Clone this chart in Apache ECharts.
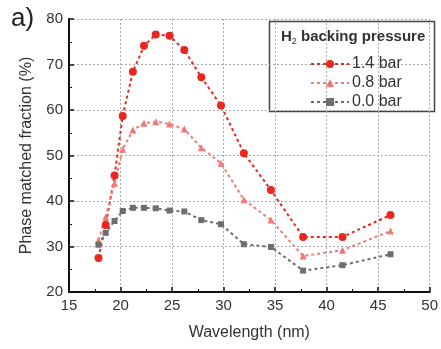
<!DOCTYPE html>
<html><head><meta charset="utf-8">
<script src="https://cdn.jsdelivr.net/npm/echarts@6/dist/echarts.min.js"></script>
<style>html,body{margin:0;padding:0;background:#fff}#c{width:441px;height:349px}</style>
</head><body><div id="c"></div>
<script>
var xTicks = [15, 20, 25, 30, 35, 40, 45, 50];
var yTicks = [20, 30, 40, 50, 60, 70, 80];
var wavelength = [17.86, 18.56, 19.42, 20.21, 21.2, 22.28, 23.42, 24.76, 26.19, 27.84, 29.75, 31.97, 34.6, 37.72, 41.54, 46.2];
var bar14 = [27.5, 34.7, 45.6, 58.7, 68.4, 74.1, 76.6, 76.3, 73.2, 67.2, 61.0, 50.5, 42.4, 32.1, 32.1, 36.9];
var bar08 = [31.4, 36.5, 43.9, 51.4, 55.6, 57.1, 57.4, 56.9, 55.8, 51.7, 48.3, 40.3, 35.8, 27.9, 29.2, 33.4];
var bar00 = [30.4, 33.0, 35.6, 37.8, 38.5, 38.5, 38.4, 37.9, 37.7, 35.8, 34.9, 30.5, 29.9, 24.7, 25.9, 28.3];
var seriesNames = ['1.4 bar', '0.8 bar', '0.0 bar'];

function pairs(ys){ return wavelength.map(function(x,i){ return [x, ys[i]]; }); }
var font = 'Liberation Sans, Arial, sans-serif';
var chart = echarts.init(document.getElementById('c'), null, {renderer:'canvas'});
function mk(name, data, color, symbol, size){
  return {name:name, type:'line', data:pairs(data), symbol:symbol, symbolSize:size,
    lineStyle:{color:color, width:2, type:[3,3]}, itemStyle:{color:color}, z:3};
}
chart.setOption({
  animation:false,
  grid:{left:69, right:4, top:19, bottom:57},
  xAxis:{type:'value', min:15, max:50, interval:5,
    name:'Wavelength (nm)', nameLocation:'middle', nameGap:33,
    nameTextStyle:{fontFamily:font, fontSize:16, color:'#333'},
    axisLine:{lineStyle:{color:'#111', width:2}},
    axisTick:{inside:true, length:5, lineStyle:{color:'#111', width:1.5}},
    minorTick:{show:true, splitNumber:2, length:3, lineStyle:{color:'#111'}},
    axisLabel:{fontFamily:font, fontSize:15, color:'#333', margin:6,
      formatter:function(v){ return xTicks.indexOf(v)>=0 ? String(v) : ''; }},
    splitLine:{show:true, lineStyle:{color:'#aaa', type:[2,2], width:1}}
  },
  yAxis:{type:'value', min:20, max:80, interval:10,
    name:'Phase matched fraction (%)', nameLocation:'middle', nameGap:34,
    nameTextStyle:{fontFamily:font, fontSize:16, color:'#333'},
    axisLine:{show:true, lineStyle:{color:'#111', width:2}},
    axisTick:{show:true, inside:true, length:5, lineStyle:{color:'#111', width:1.5}},
    minorTick:{show:true, splitNumber:2, length:3, lineStyle:{color:'#111'}},
    axisLabel:{fontFamily:font, fontSize:15, color:'#333', margin:6,
      formatter:function(v){ return yTicks.indexOf(v)>=0 ? String(v) : ''; }},
    splitLine:{show:true, lineStyle:{color:'#aaa', type:[2,2], width:1}}
  },
  legend:{orient:'vertical', left:305, top:51, itemGap:3, itemWidth:38, itemHeight:10,
    data:seriesNames, textStyle:{fontFamily:font, fontSize:16, color:'#333', padding:[0,0,0,-2]}},
  graphic:[
    {type:'rect', shape:{x:269.5, y:21.5, width:165, height:90}, style:{fill:'#fff', stroke:'#444', lineWidth:1.5}, z:0},
    {type:'text', left:281, top:29, style:{text:'{a|H}{s|2}{a| backing pressure}',
      rich:{a:{fontFamily:font, fontSize:15, fill:'#333', fontWeight:'bold'}, s:{fontFamily:font, fontSize:9, fill:'#333', padding:[10,0,0,0]}}}, z:5},
    {type:'text', left:11, top:6, style:{text:'a)', fontFamily:font, fontSize:26, fill:'#222'}}
  ],
  series:[
    mk(seriesNames[0], bar14, '#e8281e', 'circle', 8),
    mk(seriesNames[1], bar08, '#f07a7a', 'triangle', 7),
    mk(seriesNames[2], bar00, '#6e6e6e', 'rect', 6)
  ]
});
</script></body></html>
